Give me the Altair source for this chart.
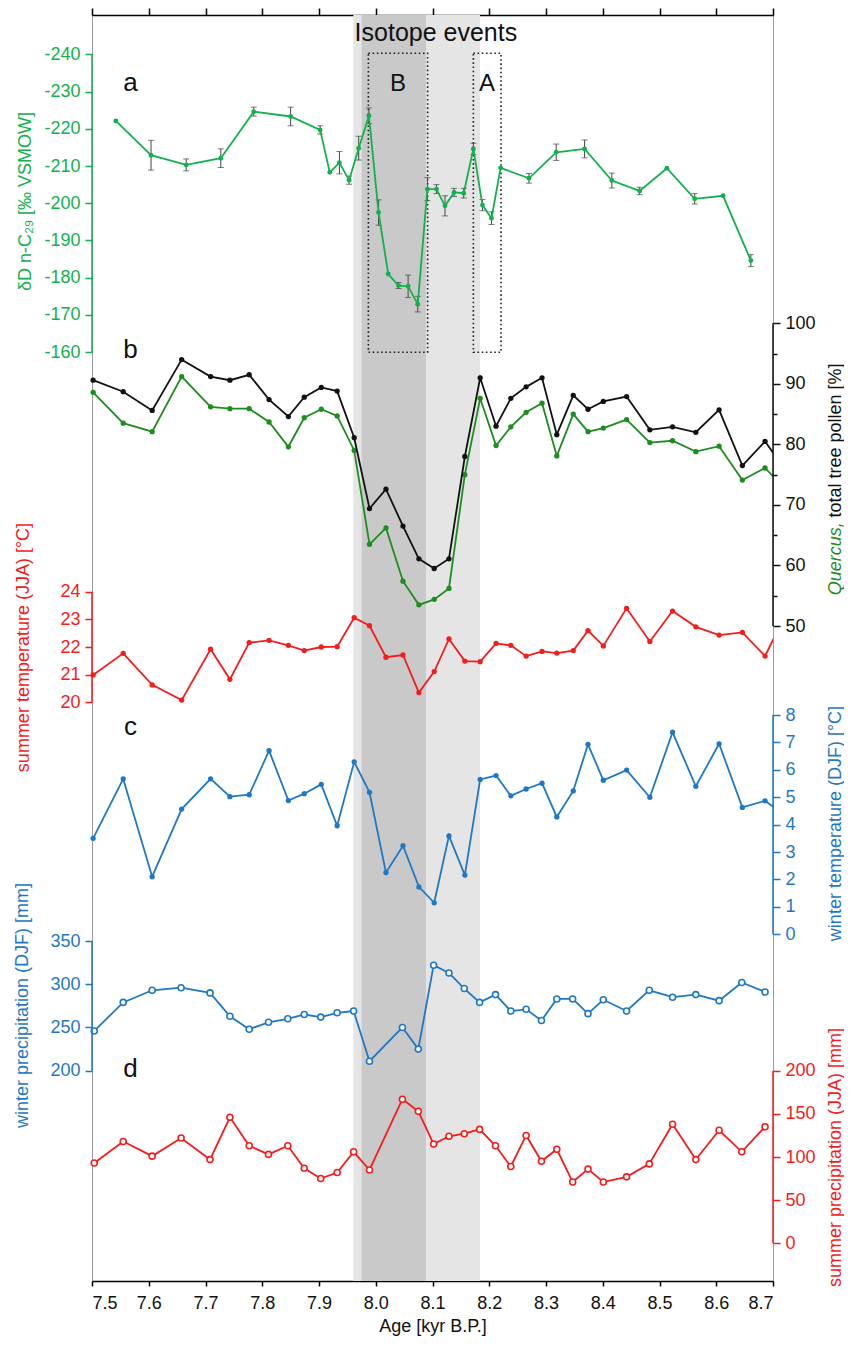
import altair as alt
import pandas as pd

# ---------------- data ----------------
# panel a: leaf wax dD
dd_age = [7.542, 7.604, 7.666, 7.727, 7.785, 7.850, 7.902, 7.919, 7.936, 7.953, 7.970, 7.988,
          8.005, 8.022, 8.040, 8.057, 8.074, 8.091, 8.107, 8.122, 8.138, 8.155, 8.172, 8.188,
          8.204, 8.220, 8.270, 8.318, 8.368, 8.416, 8.465, 8.513, 8.562, 8.612, 8.661]
dd_val = [-222.1, -212.9, -210.3, -212.1, -224.6, -223.3, -219.7, -208.3, -210.9, -206.2, -214.8, -223.5,
          -197.5, -181.0, -177.9, -177.7, -172.9, -203.8, -203.8, -199.3, -202.9, -202.7, -214.6, -199.5,
          -196.0, -209.5, -206.7, -213.7, -214.6, -206.1, -203.3, -209.4, -201.2, -202.0, -184.6]
dd_err = [0, 4.0, 1.6, 2.5, 1.2, 2.5, 1.1, 0, 3.0, 1.1, 3.2, 2.1,
          3.4, 0, 0.8, 3.0, 2.1, 3.1, 1.2, 2.7, 1.1, 1.3, 1.5, 1.5,
          1.7, 0, 1.3, 2.2, 2.4, 2.0, 1.0, 0, 1.4, 0, 1.6]

# panels b, c: pollen and temperatures (last value lies just past the plotted range)
pol_age = [7.502, 7.555, 7.606, 7.658, 7.709, 7.743, 7.777, 7.812, 7.846, 7.874, 7.904, 7.932,
           7.962, 7.989, 8.018, 8.048, 8.076, 8.103, 8.129, 8.157, 8.184, 8.212, 8.238, 8.265,
           8.293, 8.319, 8.348, 8.374, 8.401, 8.442, 8.483, 8.523, 8.564, 8.605, 8.646, 8.686, 8.720]
total_tree = [90.6, 88.7, 85.6, 94.0, 91.2, 90.6, 91.5, 87.4, 84.6, 87.8, 89.4, 88.8,
              81.1, 69.4, 72.6, 66.5, 61.1, 59.5, 61.1, 78.0, 91.0, 83.0, 87.6, 89.5,
              91.0, 81.6, 88.1, 85.8, 87.1, 87.9, 82.4, 82.9, 82.0, 85.7, 76.5, 80.5, 76.0]
quercus = [88.6, 83.5, 82.1, 91.2, 86.2, 85.9, 85.9, 83.7, 79.6, 84.4, 85.8, 84.7,
           79.0, 63.5, 66.2, 57.4, 53.5, 54.4, 56.2, 75.0, 87.6, 79.8, 82.9, 85.3,
           86.8, 78.1, 85.0, 82.1, 82.7, 84.1, 80.3, 80.6, 78.8, 79.7, 74.1, 76.1, 72.8]
summer_t = [20.99, 21.77, 20.63, 20.08, 21.92, 20.83, 22.16, 22.24, 22.06, 21.87, 22.00, 22.01,
            23.06, 22.77, 21.63, 21.71, 20.35, 21.11, 22.29, 21.49, 21.47, 22.13, 22.06, 21.67,
            21.84, 21.78, 21.87, 22.59, 22.04, 23.40, 22.20, 23.30, 22.73, 22.43, 22.53, 21.67, 23.10]
winter_t = [3.50, 5.67, 2.10, 4.57, 5.67, 5.02, 5.09, 6.70, 4.88, 5.13, 5.47, 3.96,
            6.29, 5.18, 2.25, 3.23, 1.73, 1.15, 3.59, 2.16, 5.65, 5.79, 5.05, 5.30,
            5.51, 4.28, 5.23, 6.93, 5.62, 5.99, 5.00, 7.37, 5.40, 6.95, 4.63, 4.87, 4.36]

# panel d: precipitation
pr_age = [7.504, 7.555, 7.606, 7.657, 7.708, 7.743, 7.777, 7.811, 7.845, 7.874, 7.903, 7.932,
          7.961, 7.989, 8.047, 8.075, 8.102, 8.129, 8.156, 8.183, 8.211, 8.238, 8.265, 8.292,
          8.319, 8.347, 8.374, 8.401, 8.442, 8.482, 8.523, 8.564, 8.605, 8.645, 8.686]
winter_p = [246, 279, 293, 296, 290, 263, 248, 256, 260, 265, 262, 267,
            269, 211, 250, 225, 322, 313, 295, 279, 288, 269, 271, 258,
            283, 283, 266, 282, 269, 293, 285, 288, 281, 302, 291]
summer_p = [93, 118, 101, 122, 97, 146, 113, 103, 113, 87, 75, 82,
            106, 85, 167, 153, 115, 124, 127, 132, 113, 89, 125, 95,
            109, 71, 86, 71, 77, 92, 138, 97, 131, 106, 135]

# shaded periods and isotope event boxes (kyr B.P.)
band_start = [7.9605, 7.9752]
band_end = [8.1837, 8.0885]
band_color = ["#e5e5e5", "#c9c9c9"]
box_label = ["B", "A"]
box_start = [7.987, 8.172]
box_end = [8.0914, 8.2207]

# ---------------- styling ----------------
FONT = "Liberation Sans"
GREEN_DD = "#14b04e"
GREEN_Q = "#1f8c1f"
BLACK = "#111111"
RED = "#f41c1c"
BLUE = "#1f78c4"
ERR = "#444444"

W, H = 681, 1266
TOP = 15  # page y of plot top

def yscale(va, pa, vb, pb):
    """Linear scale (over the full plot height) that puts value va at page-y pa and vb at pb."""
    ra, rb = pa - TOP, pb - TOP
    k = (rb - ra) / (vb - va)
    v_top = va - ra / k
    v_bot = va + (H - ra) / k
    if k < 0:
        return alt.Scale(domain=[v_bot, v_top], nice=False, zero=False)
    return alt.Scale(domain=[v_top, v_bot], reverse=True, nice=False, zero=False)

sc_dd = yscale(-240, 54.3, -160, 352.2)
sc_pol = yscale(100, 323.3, 50, 626.0)
sc_st = yscale(24, 591.7, 20, 702.3)
sc_wt = yscale(8, 715.0, 0, 934.3)
sc_wp = yscale(350, 941.0, 200, 1070.7)
sc_sp = yscale(200, 1070.7, 0, 1243.3)
xsc = alt.Scale(domain=[7.5, 8.7], nice=False, zero=False)

RT = 62  # right-axis title offset


def X(field="age", axis=None):
    return alt.X(f"{field}:Q", scale=xsc, axis=axis)


def yaxis(orient, values, color, title, tx, ty, align="center", style="normal",
          tick=7, labels=True, tcolor=None):
    return alt.Axis(orient=orient, values=values, domain=False, grid=False,
                    ticks=True, tickSize=tick, tickWidth=1.5, tickColor=color,
                    labels=labels, labelColor=color, labelFontSize=18, labelPadding=5,
                    labelExpr="'' + datum.value",
                    title=title, titleColor=tcolor or color, titleFontSize=18,
                    titleFontWeight="normal",
                    titleFontStyle=style, titleAngle=270, titleAlign=align,
                    titleBaseline="middle", titleX=tx, titleY=ty)


# ---------------- data frames ----------------
dd_df = pd.DataFrame({"age": dd_age, "v": dd_val, "err": dd_err})
dd_df["lo"] = dd_df["v"] - dd_df["err"]
dd_df["hi"] = dd_df["v"] + dd_df["err"]
err_df = dd_df[dd_df["err"] > 0]
pol_df = pd.DataFrame({"age": pol_age, "tot": total_tree, "q": quercus,
                       "st": summer_t, "wt": winter_t})
pr_df = pd.DataFrame({"age": pr_age, "wp": winter_p, "sp": summer_p})
band_df = pd.DataFrame({"a0": band_start, "a1": band_end, "c": band_color})
box_df = pd.DataFrame({"a0": box_start, "a1": box_end, "lab": box_label,
                       "y0": [-240.3, -240.3], "y1": [-160, -160]})

layers = []

# shaded bands with the bottom and top x axes
bottom_axis = alt.Axis(orient="bottom", values=[7.5 + 0.1 * i for i in range(13)], format=".1f",
                       grid=False, domainColor="black", domainWidth=1.5, tickColor="black",
                       tickWidth=1.5, tickSize=5, labelFontSize=18, labelColor="#111",
                       labelPadding=8, title="Age [kyr B.P.]", titleFontSize=18,
                       titleFontWeight="normal", titleColor="#111", titleBaseline="middle",
                       titleX=W / 2, titleY=45)
top_axis = alt.Axis(orient="top", values=[7.5 + 0.1 * i for i in range(13)], grid=False,
                    domainColor="black", domainWidth=1.5, tickColor="black", tickWidth=1.5,
                    tickSize=7, labels=False, title=None)
layers.append(alt.Chart(band_df.iloc[[0]]).mark_rect(color=band_color[0]).encode(
    x=X("a0", bottom_axis), x2="a1"))
layers.append(alt.Chart(band_df.iloc[[1]]).mark_rect(color=band_color[1]).encode(
    x=X("a0", top_axis), x2="a1"))

# dotted event boxes
layers.append(alt.Chart(box_df).mark_rect(fillOpacity=0, stroke="#222", strokeWidth=1.6,
                                          strokeDash=[1.6, 2.6]).encode(
    x=X("a0"), x2="a1", y=alt.Y("y0:Q", scale=sc_dd, axis=None), y2="y1"))

# annotations in panel a
ann_a = pd.DataFrame({"age": [8.106, 7.568, 8.039, 8.196],
                      "v": [-245.6, -232.3, -231.9, -231.9],
                      "t": ["Isotope events", "a", "B", "A"],
                      "fs": [25, 26, 24, 24]})
layers.append(alt.Chart(ann_a).mark_text(color="#111", baseline="middle", align="center").encode(
    x=X(), y=alt.Y("v:Q", scale=sc_dd, axis=None), text="t:N", size=alt.Size("fs:Q", scale=None)))

# panel a error bars and series
layers.append(alt.Chart(err_df).mark_rule(color=ERR, strokeWidth=1).encode(
    x=X(), y=alt.Y("lo:Q", scale=sc_dd, axis=None), y2="hi"))
layers.append(alt.Chart(err_df).mark_tick(color=ERR, orient="horizontal", size=6, thickness=1).encode(
    x=X(), y=alt.Y("lo:Q", scale=sc_dd, axis=None)))
layers.append(alt.Chart(err_df).mark_tick(color=ERR, orient="horizontal", size=6, thickness=1).encode(
    x=X(), y=alt.Y("hi:Q", scale=sc_dd, axis=None)))
layers.append(alt.Chart(dd_df).mark_line(color=GREEN_DD, strokeWidth=1.8,
                                         point=alt.OverlayMarkDef(filled=True, fill=GREEN_DD, size=24)).encode(
    x=X(), y=alt.Y("v:Q", scale=sc_dd,
                   axis=yaxis("left", list(range(-240, -159, 10)), GREEN_DD,
                              "δD n-C₂₉ [‰ VSMOW]", -67, 186))))

# panel b
layers.append(alt.Chart(pol_df).mark_line(color=GREEN_Q, strokeWidth=1.8, clip=True).encode(
    x=X(), y=alt.Y("q:Q", scale=sc_pol, axis=None)))
layers.append(alt.Chart(pol_df).transform_filter("datum.age <= 8.7").mark_point(
    filled=True, color=GREEN_Q, size=28, opacity=1).encode(
    x=X(), y=alt.Y("q:Q", scale=sc_pol,
                   axis=yaxis("right", [55, 65, 75, 85, 95], BLACK, "Quercus,", RT, 506.7,
                              align="right", style="italic", tick=4, labels=False,
                              tcolor=GREEN_Q))))
layers.append(alt.Chart(pol_df).mark_line(color=BLACK, strokeWidth=1.8, clip=True).encode(
    x=X(), y=alt.Y("tot:Q", scale=sc_pol, axis=None)))
layers.append(alt.Chart(pol_df).transform_filter("datum.age <= 8.7").mark_point(
    filled=True, color=BLACK, size=28, opacity=1).encode(
    x=X(), y=alt.Y("tot:Q", scale=sc_pol,
                   axis=yaxis("right", [50, 60, 70, 80, 90, 100], BLACK,
                              "total tree pollen [%]", RT, 502, align="left"))))

# panel c
layers.append(alt.Chart(pol_df).mark_line(color=RED, strokeWidth=1.8, clip=True).encode(
    x=X(), y=alt.Y("st:Q", scale=sc_st, axis=None)))
layers.append(alt.Chart(pol_df).transform_filter("datum.age <= 8.7").mark_point(
    filled=True, color=RED, size=28, opacity=1).encode(
    x=X(), y=alt.Y("st:Q", scale=sc_st,
                   axis=yaxis("left", [20, 21, 22, 23, 24], RED,
                              "summer temperature (JJA) [°C]", -69, 632))))
layers.append(alt.Chart(pol_df).mark_line(color=BLUE, strokeWidth=1.8, clip=True).encode(
    x=X(), y=alt.Y("wt:Q", scale=sc_wt, axis=None)))
layers.append(alt.Chart(pol_df).transform_filter("datum.age <= 8.7").mark_point(
    filled=True, color=BLUE, size=28, opacity=1).encode(
    x=X(), y=alt.Y("wt:Q", scale=sc_wt,
                   axis=yaxis("right", list(range(0, 9)), BLUE,
                              "winter temperature (DJF) [°C]", RT, 808))))

# panel d
layers.append(alt.Chart(pr_df).mark_line(color=BLUE, strokeWidth=1.8,
                                         point=alt.OverlayMarkDef(filled=True, fill="white", stroke=BLUE,
                                                                  strokeWidth=1.6, size=36)).encode(
    x=X(), y=alt.Y("wp:Q", scale=sc_wp,
                   axis=yaxis("left", [200, 250, 300, 350], BLUE,
                              "winter precipitation (DJF) [mm]", -70, 990))))
layers.append(alt.Chart(pr_df).mark_line(color=RED, strokeWidth=1.8,
                                         point=alt.OverlayMarkDef(filled=True, fill="white", stroke=RED,
                                                                  strokeWidth=1.6, size=36)).encode(
    x=X(), y=alt.Y("sp:Q", scale=sc_sp,
                   axis=yaxis("right", [0, 50, 100, 150, 200], RED,
                              "summer precipitation (JJA) [mm]", RT, 1142))))

# panel letters b, c, d
for txt, age, val, sc in [("b", 7.568, 95.6, sc_pol), ("c", 7.568, 7.56, sc_wt), ("d", 7.568, 202, sc_wp)]:
    layers.append(alt.Chart(pd.DataFrame({"age": [age], "v": [val], "t": [txt]})).mark_text(
        color="#111", fontSize=26, baseline="middle", align="center").encode(
        x=X(), y=alt.Y("v:Q", scale=sc, axis=None), text="t:N"))

# coloured axis lines covering each axis' own range
for y0, y1, sc, color, side in [(-240, -160, sc_dd, GREEN_DD, 0), (50, 100, sc_pol, BLACK, W),
                                (20, 24, sc_st, RED, 0), (0, 8, sc_wt, BLUE, W),
                                (200, 350, sc_wp, BLUE, 0), (0, 200, sc_sp, RED, W)]:
    layers.append(alt.Chart(pd.DataFrame({"y0": [y0], "y1": [y1]})).mark_rule(
        color=color, strokeWidth=1.5).encode(
        x=alt.value(side), y=alt.Y("y0:Q", scale=sc, axis=None), y2="y1"))

chart = alt.layer(*layers).resolve_scale(y="independent").resolve_axis(
    x="independent", y="independent").properties(
    width=W, height=H,
    padding={"left": 84, "top": 7, "right": 71, "bottom": 58},
    autosize=alt.AutoSizeParams(type="none"),
    background="white",
).configure_view(stroke="#9c9c9c", strokeWidth=1).configure_axis(
    labelFont=FONT, titleFont=FONT).configure_text(font=FONT)

chart.save("out.html", embed_options={"renderer": "svg", "actions": False})
